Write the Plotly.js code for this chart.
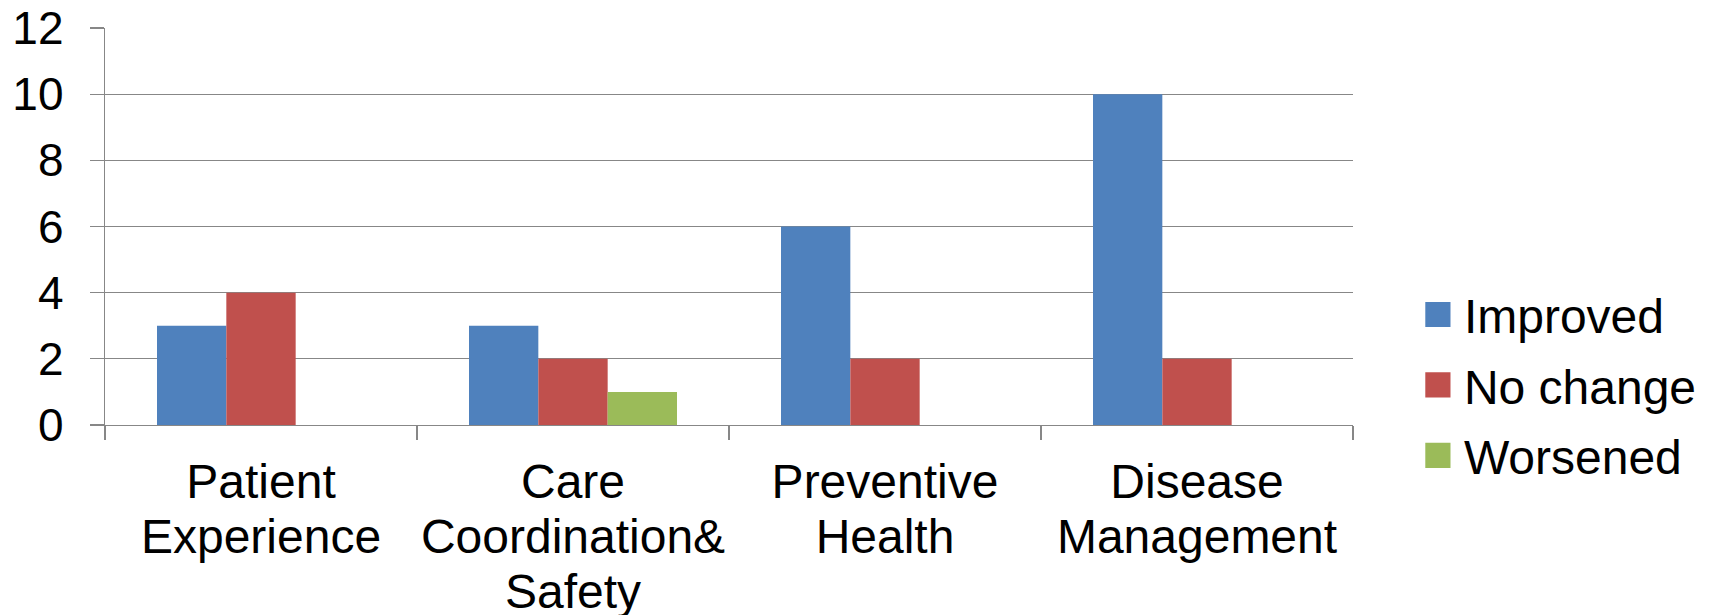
<!DOCTYPE html>
<html>
<head>
<meta charset="utf-8">
<script src="https://cdn.plot.ly/plotly-3.0.1.min.js"></script>
<style>
  html, body { margin: 0; padding: 0; background: #fff; }
  #chart { width: 1715px; height: 615px; }
</style>
</head>
<body>
<div id="chart"></div>
<script>
// Outcome counts per quality domain
const categories = [
  "Patient<br>Experience",
  "Care<br>Coordination&<br>Safety",
  "Preventive<br>Health",
  "Disease<br>Management"
];
const improved  = [3, 3, 6, 10];
const noChange  = [4, 2, 2, 2];
const worsened  = [0, 1, 0, 0];
const seriesNames = ["Improved", "No change", "Worsened"];
const seriesColors = ["#4F81BD", "#C0504D", "#9BBB59"];

const FONT = "Liberation Sans, Arial, sans-serif";
const GRID = "#878787";

const values = [improved, noChange, worsened];
const traces = values.map((v, i) => ({
  type: "bar",
  name: seriesNames[i],
  x: categories,
  y: v,
  legendgroup: "g" + i,
  marker: { color: seriesColors[i], line: { width: 0 } },
  hoverinfo: "x+y+name"
}));

const layout = {
  width: 1715,
  height: 615,
  margin: { l: 105, r: 362, t: 28, b: 190, pad: 0, autoexpand: false },
  paper_bgcolor: "#ffffff",
  plot_bgcolor: "#ffffff",
  font: { family: FONT, size: 46, color: "#000000" },
  barmode: "group",
  bargap: 1 / 3,
  bargroupgap: 0,
  showlegend: true,
  legend: {
    x: 1.052, xanchor: "left",
    y: 0.1, yanchor: "middle",
    font: { family: FONT, size: 48, color: "#000000" },
    tracegroupgap: 5,
    bgcolor: "rgba(0,0,0,0)",
    borderwidth: 0
  },
  xaxis: {
    type: "category",
    tickson: "boundaries",
    ticks: "outside",
    ticklen: 14,
    tickwidth: 1.3,
    tickcolor: GRID,
    tickangle: 0,
    ticklabelstandoff: 14,
    showline: true,
    linecolor: GRID,
    linewidth: 1.3,
    showgrid: false,
    zeroline: false,
    tickfont: { family: FONT, size: 48, color: "#000000" },
    automargin: false
  },
  yaxis: {
    range: [0, 12],
    dtick: 2,
    tick0: 0,
    ticks: "outside",
    ticklen: 14,
    tickwidth: 1.3,
    tickcolor: GRID,
    ticklabelstandoff: 17,
    showline: true,
    linecolor: GRID,
    linewidth: 1.3,
    showgrid: true,
    gridcolor: GRID,
    gridwidth: 1.3,
    zeroline: false,
    tickfont: { family: FONT, size: 46, color: "#000000" },
    automargin: false
  }
};

const el = document.getElementById("chart");
Plotly.newPlot(el, traces, layout, { displayModeBar: false, staticPlot: true }).then(() => {
  // enlarge the legend swatches and nudge the legend text
  el.querySelectorAll(".legend .legendpoints path").forEach(p => {
    const t = p.getAttribute("transform") || "";
    p.setAttribute("transform", t + " scale(2.1)");
  });
  el.querySelectorAll(".legend text.legendtext").forEach(t => {
    const x = parseFloat(t.getAttribute("x") || "0");
    t.setAttribute("x", x + 6);
  });
  // tighter line spacing for the multi-line category labels
  el.querySelectorAll(".xtick text tspan.line").forEach(s => {
    const dy = parseFloat(s.getAttribute("dy"));
    if (dy) s.setAttribute("dy", (dy / 1.3 * 1.15) + "em");
  });
});
</script>
</body>
</html>
